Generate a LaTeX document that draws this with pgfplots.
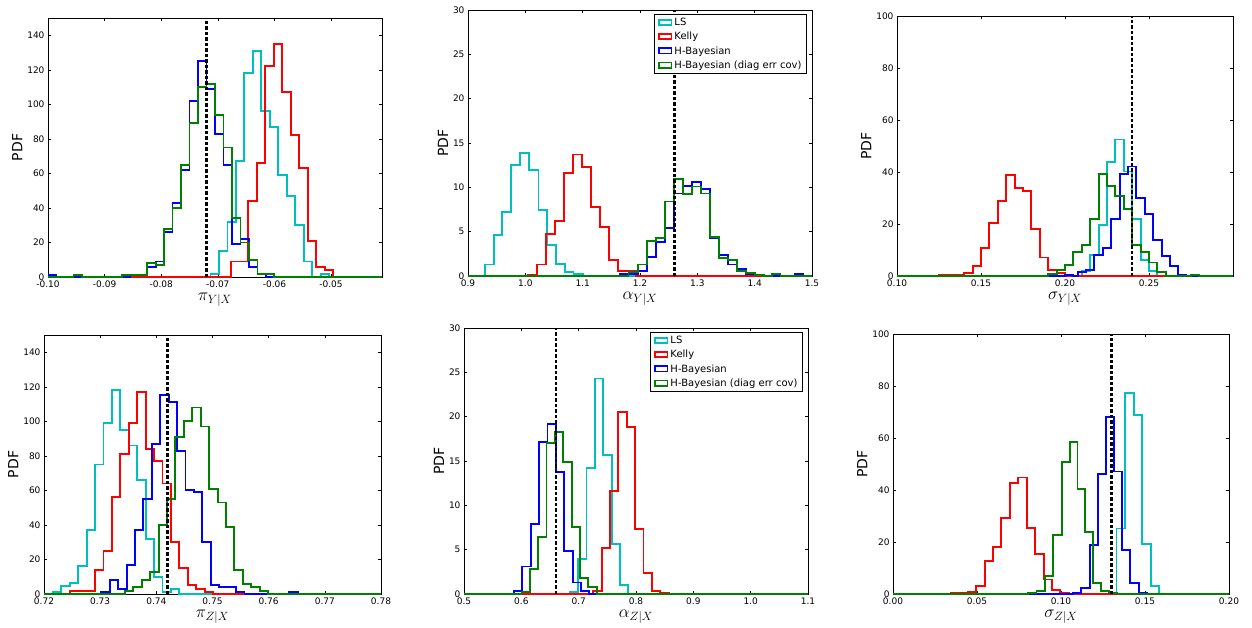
\documentclass[border=0pt]{standalone}
\usepackage{pgfplots}
\pgfplotsset{compat=1.18}
\usepackage{fontspec}
\setmainfont{DejaVu Sans}
\definecolor{mc}{rgb}{0,0.75,0.75}
\definecolor{mr}{rgb}{1,0,0}
\definecolor{mb}{rgb}{0,0,1}
\definecolor{mg}{rgb}{0,0.5,0}
\pgfplotsset{
  hbase/.style={scale only axis, anchor=south west, axis line style={black,line width=0.8pt},
    tick align=inside, xtick pos=both, ytick pos=both, major tick length=3pt,
    tick style={black,line width=0.6pt},
    /pgf/number format/assume math mode=true,
    tick label style={font=\fontsize{9}{10}\selectfont},
    ylabel={PDF}, ylabel style={font=\fontsize{14}{15}\selectfont, yshift=-2pt},
    xlabel style={font=\fontsize{17}{18}\selectfont, yshift=1pt},
    ymin=0, clip=true,
    every axis plot/.append style={const plot mark left, line width=1.9pt, mark=none, line join=miter},
    legend image code/.code={\draw[#1,line width=1.9pt] (0cm,-0.09cm) rectangle (0.45cm,0.09cm);},
    legend style={font=\fontsize{10}{12}\selectfont, draw=black, line width=0.8pt, legend cell align=left, row sep=1pt},
  },
  vline/.style={black, line width=2.2pt, dash pattern=on 3.5pt off 2pt, const plot=false, sharp plot},
}
\begin{document}
\begin{tikzpicture}
% ---------- Panel 1 ----------
\begin{axis}[hbase, at={(48pt,-277pt)}, width=334pt, height=259pt,
  xmin=-0.1, xmax=-0.041, ymax=150, xtick={-0.10,-0.09,-0.08,-0.07,-0.06,-0.05}, ytick={0,20,...,140},
  xticklabel style={/pgf/number format/.cd,fixed,fixed zerofill,precision=2},
  xlabel={$\pi_{Y|X}$}]
\addplot[mc] coordinates {(-0.1,0)(-0.0713,2)(-0.0698,15)(-0.0683,32)(-0.0668,67)(-0.0653,118)(-0.0638,131)(-0.0623,96)(-0.0608,87)(-0.0593,59)(-0.0578,47)(-0.0563,30)(-0.0548,9)(-0.0533,0)(-0.0518,2)(-0.0503,0)(-0.041,0)};
\addplot[mr] coordinates {(-0.1,0)(-0.0676,9)(-0.0661,9)(-0.0646,44)(-0.0631,66)(-0.0616,122)(-0.0601,135)(-0.0586,107)(-0.0571,82)(-0.0556,63)(-0.0541,21)(-0.0526,6)(-0.0511,4)(-0.0496,0)(-0.041,0)};
\addplot[mb] coordinates {(-0.1,1)(-0.0985,0)(-0.0855,1)(-0.084,1)(-0.0825,6)(-0.081,9)(-0.0795,26)(-0.078,43)(-0.0765,62)(-0.075,102)(-0.0735,125)(-0.072,109)(-0.0705,83)(-0.069,65)(-0.0675,19)(-0.066,22)(-0.0645,6)(-0.063,2)(-0.0615,0)(-0.041,0)};
\addplot[mg] coordinates {(-0.1,0)(-0.0955,1)(-0.094,0)(-0.0870,1)(-0.0855,1)(-0.084,1)(-0.0825,8)(-0.081,7)(-0.0795,28)(-0.078,40)(-0.0765,65)(-0.075,89)(-0.0735,110)(-0.072,112)(-0.0705,94)(-0.069,75)(-0.0675,34)(-0.066,20)(-0.0645,10)(-0.063,2)(-0.0615,2)(-0.06,0)(-0.041,0)};
\addplot[vline] coordinates {(-0.072,0)(-0.072,150)};
\end{axis}
% ---------- Panel 2 ----------
\begin{axis}[hbase, at={(468pt,-276pt)}, width=344pt, height=266pt,
  xmin=0.9, xmax=1.5, ymax=30, xtick={0.9,1.0,...,1.5}, ytick={0,5,...,30},
  xticklabel style={/pgf/number format/.cd,fixed,fixed zerofill,precision=1},
  xlabel={$\alpha_{Y|X}$},
  legend style={at={(0.985,0.985)}, anchor=north east}]
\addplot[mc] coordinates {(0.9,0)(0.93,1.3)(0.945,4.6)(0.96,7.2)(0.975,12.5)(0.991,13.9)(1.007,12)(1.023,7.4)(1.038,3.5)(1.054,1.4)(1.069,0.5)(1.084,0.2)(1.1,0)(1.5,0)};
\addlegendentry{LS}
\addplot[mr] coordinates {(0.9,0)(1.005,0.1)(1.02,1.3)(1.036,4.7)(1.052,6.2)(1.067,11.6)(1.083,13.7)(1.099,12.3)(1.115,7.8)(1.13,5.5)(1.146,1.8)(1.162,0.6)(1.178,0.6)(1.193,0)(1.5,0)};
\addlegendentry{Kelly}
\addplot[mb] coordinates {(0.9,0)(1.165,0.2)(1.18,0.2)(1.196,0.6)(1.212,2.1)(1.228,3.8)(1.243,5.4)(1.259,9.3)(1.275,10.2)(1.291,10.6)(1.306,9.8)(1.322,4.3)(1.338,2.4)(1.353,1.3)(1.369,0.8)(1.385,0.2)(1.40,0.1)(1.416,0)(1.47,0.2)(1.485,0)(1.5,0)};
\addlegendentry{H-Bayesian}
\addplot[mg] coordinates {(0.9,0)(1.18,0.5)(1.196,1.3)(1.212,3.9)(1.228,4.3)(1.243,8.4)(1.259,10.9)(1.275,9.2)(1.291,10.1)(1.306,9.3)(1.322,4.4)(1.338,2.0)(1.353,1.8)(1.369,0.6)(1.385,0.3)(1.40,0.1)(1.416,0)(1.43,0.2)(1.445,0)(1.5,0)};
\addlegendentry{H-Bayesian (diag err cov)}
\addplot[vline,forget plot] coordinates {(1.26,0)(1.26,30)};
\end{axis}
% ---------- Panel 3 ----------
\begin{axis}[hbase, at={(897pt,-276pt)}, width=336pt, height=260pt,
  xmin=0.1, xmax=0.3, ymax=100, xtick={0.10,0.15,0.20,0.25}, ytick={0,20,...,100},
  xticklabel style={/pgf/number format/.cd,fixed,fixed zerofill,precision=2},
  xlabel={$\sigma_{Y|X}$}]
\addplot[mc] coordinates {(0.1,0)(0.21,2)(0.215,8)(0.22,19.7)(0.225,43.7)(0.23,52.5)(0.235,40.2)(0.24,21.9)(0.245,6)(0.25,2)(0.255,0)(0.3,0)};
\addplot[mr] coordinates {(0.1,0)(0.125,0.3)(0.13,0.3)(0.135,0.5)(0.14,1.3)(0.145,3.8)(0.15,10.7)(0.155,20.3)(0.16,28.7)(0.165,38.8)(0.17,33.8)(0.175,32.6)(0.18,18.2)(0.185,7.1)(0.19,2.2)(0.195,1.0)(0.2,0)(0.3,0)};
\addplot[mb] coordinates {(0.1,0)(0.2,0.5)(0.205,0)(0.2075,1.5)(0.2125,2.3)(0.2175,8)(0.2225,10.7)(0.2275,21.9)(0.2325,39.2)(0.2375,42.1)(0.2425,30)(0.2475,23.8)(0.2525,13.9)(0.2575,7.8)(0.2625,3.8)(0.2675,0.3)(0.272,0)(0.3,0)};
\addplot[mg] coordinates {(0.1,0)(0.19,0.6)(0.195,2.2)(0.2,4.1)(0.205,9.1)(0.21,12)(0.215,21.9)(0.22,39.1)(0.225,34.5)(0.23,30.9)(0.235,25.6)(0.24,12)(0.245,9.4)(0.25,5.2)(0.255,1.6)(0.26,0)(0.275,0.3)(0.28,0)(0.3,0)};
\addplot[vline] coordinates {(0.24,0)(0.24,100)};
\end{axis}
% ---------- Panel 4 ----------
\begin{axis}[hbase, at={(44pt,-594pt)}, width=337pt, height=259pt,
  xmin=0.72, xmax=0.78, ymax=150, xtick={0.72,0.73,...,0.78}, ytick={0,20,...,140},
  xticklabel style={/pgf/number format/.cd,fixed,fixed zerofill,precision=2},
  xlabel={$\pi_{Z|X}$}]
\addplot[mc] coordinates {(0.72,0)(0.7216,1)(0.7231,4.5)(0.7246,6.5)(0.7261,16)(0.7276,37)(0.7291,75)(0.7306,99)(0.7321,118)(0.7336,95)(0.7351,86)(0.7366,66)(0.7381,32)(0.7396,10)(0.7411,1)(0.7426,3)(0.7441,0)(0.78,0)};
\addplot[mr] coordinates {(0.72,0)(0.7246,2)(0.7261,2)(0.7276,2)(0.7291,14)(0.7306,25)(0.7321,56)(0.7336,81)(0.7351,99)(0.7366,117)(0.7381,84)(0.7396,77)(0.7411,64)(0.7426,30)(0.7441,15)(0.7456,5)(0.7471,3)(0.7486,1)(0.7501,0)(0.78,0)};
\addplot[mb] coordinates {(0.72,0)(0.7302,1)(0.7317,8)(0.7332,3)(0.7347,17)(0.7362,37)(0.7377,55)(0.7392,87)(0.7407,115)(0.7422,111)(0.7437,83)(0.7452,60)(0.7467,59)(0.7482,30)(0.7497,5)(0.7512,4)(0.7527,4)(0.7542,1)(0.7557,0)(0.7637,1)(0.7652,0)(0.78,0)};
\addplot[mg] coordinates {(0.72,0)(0.7344,2)(0.7359,4)(0.7374,8)(0.7389,13)(0.7404,40)(0.7419,55)(0.7434,91)(0.7449,100)(0.7464,108)(0.7479,97)(0.7494,61)(0.7509,53)(0.7524,39)(0.7539,14)(0.7554,6)(0.7569,4)(0.7584,2)(0.7599,0)(0.78,0)};
\addplot[vline] coordinates {(0.742,0)(0.742,150)};
\end{axis}
% ---------- Panel 5 ----------
\begin{axis}[hbase, at={(464pt,-594pt)}, width=344pt, height=266pt,
  xmin=0.5, xmax=1.1, ymax=30, xtick={0.5,0.6,...,1.1}, ytick={0,5,...,30},
  xticklabel style={/pgf/number format/.cd,fixed,fixed zerofill,precision=1},
  xlabel={$\alpha_{Z|X}$},
  legend style={at={(0.985,0.985)}, anchor=north east}]
\addplot[mc] coordinates {(0.5,0)(0.6844,0.2)(0.699,3.9)(0.7137,14.2)(0.7283,24.3)(0.7429,15.7)(0.7575,5.6)(0.7721,1.0)(0.7867,0)(1.1,0)};
\addlegendentry{LS}
\addplot[mr] coordinates {(0.5,0)(0.7254,0.3)(0.74,5.2)(0.7546,11.6)(0.7692,20.5)(0.7838,18.8)(0.7984,7.3)(0.813,2.4)(0.8276,0.3)(0.8422,0.1)(0.8568,0)(1.1,0)};
\addlegendentry{Kelly}
\addplot[mb] coordinates {(0.5,0)(0.5873,0.3)(0.6019,3.1)(0.6165,7.9)(0.6311,17.1)(0.6457,19.2)(0.6603,13.8)(0.6749,4.9)(0.6895,1.3)(0.7041,0.3)(0.7187,0)(1.1,0)};
\addlegendentry{H-Bayesian}
\addplot[mg] coordinates {(0.5,0)(0.6002,0.2)(0.6147,2.8)(0.6293,6.4)(0.6439,17)(0.6585,18.3)(0.6731,14.9)(0.6877,7.6)(0.7023,1.8)(0.7169,0.8)(0.7315,0)(1.1,0)};
\addlegendentry{H-Bayesian (diag err cov)}
\addplot[vline,forget plot] coordinates {(0.66,0)(0.66,30)};
\end{axis}
% ---------- Panel 6 ----------
\begin{axis}[hbase, at={(893pt,-594pt)}, width=336pt, height=260pt,
  xmin=0, xmax=0.2, ymax=100, xtick={0,0.05,...,0.2}, ytick={0,20,...,100},
  xticklabel style={/pgf/number format/.cd,fixed,fixed zerofill,precision=2},
  xlabel={$\sigma_{Z|X}$}]
\addplot[mc] coordinates {(0,0)(0.133,25.2)(0.138,77.3)(0.1432,69)(0.1482,19.4)(0.1533,3)(0.1585,0)(0.2,0)};
\addplot[mr] coordinates {(0,0)(0.0347,0.3)(0.0397,0.3)(0.0446,0.8)(0.0496,3)(0.0546,12.7)(0.0595,18)(0.0645,29.3)(0.0694,42.6)(0.0744,44.8)(0.0796,25.5)(0.0847,15.5)(0.0897,5.6)(0.0946,1.5)(0.0996,0.4)(0.1046,0)(0.2,0)};
\addplot[mb] coordinates {(0,0)(0.1071,0.3)(0.1121,2.2)(0.117,18.8)(0.122,46.3)(0.1268,68.2)(0.1315,47.1)(0.1364,16.9)(0.1413,4.2)(0.1462,0.5)(0.1511,0)(0.2,0)};
\addplot[mg] coordinates {(0,0)(0.0804,0.3)(0.0854,1)(0.0904,7)(0.0954,22.6)(0.1004,50.8)(0.1051,58.3)(0.1098,40.3)(0.1145,24)(0.1192,4.2)(0.124,1.3)(0.1288,0.5)(0.1336,0)(0.2,0)};
\addplot[vline] coordinates {(0.13,0)(0.13,100)};
\end{axis}
\pgfresetboundingbox
\useasboundingbox (0,0) rectangle (1252pt,-627pt);
\end{tikzpicture}
\end{document}
